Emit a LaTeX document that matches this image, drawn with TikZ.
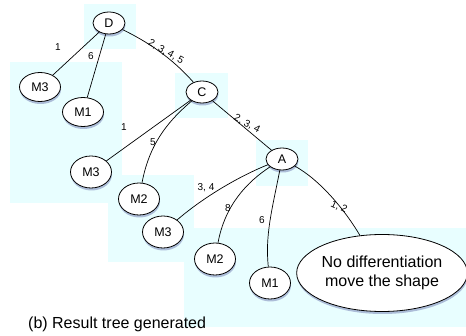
\documentclass[tikz,border=0pt]{standalone}
\usepackage{fontspec}
\setmainfont{Liberation Sans}
\usetikzlibrary{shapes.geometric,shadows}
\definecolor{bgcyan}{RGB}{232,254,255}
\definecolor{shadowblue}{RGB}{100,110,170}
\begin{document}
\begin{tikzpicture}[x=1pt,y=-1pt,
  nd/.style={ellipse,draw=black,line width=0.8pt,fill=white,inner sep=0pt,
    font=\fontsize{12.5}{14}\selectfont,
    drop shadow={shadow xshift=0.5pt,shadow yshift=-2.5pt,fill=shadowblue,opacity=0.45}},
  leaf/.style={nd,minimum width=41pt,minimum height=32pt},
  inner/.style={nd,minimum width=32pt,minimum height=22pt},
  bg/.style={fill=bgcyan,draw=none},
  edge/.style={draw=black,line width=0.7pt},
  lab/.style={font=\fontsize{10}{11}\selectfont,inner sep=0pt}]
\useasboundingbox (0,0) rectangle (466,336);
% background boxes
\fill[bg] (84,4) rectangle (136,49);
\fill[bg] (10,62) rectangle (122,203);
\fill[bg] (175,73) rectangle (228,118);
\fill[bg] (108,175) rectangle (194,262);
\fill[bg] (256,140) rectangle (308,186);
\fill[bg] (184,228) rectangle (466,327);
% nodes
\node[inner] (D) at (109,23) {D};
\node[leaf,minimum height=29pt] (M3a) at (40,87) {M3};
\node[leaf,minimum height=29pt] (M1a) at (83,112) {M1};
\node[inner] (C) at (202,92) {C};
\node[leaf] (M3b) at (91,172) {M3};
\node[leaf] (M2b) at (139,199) {M2};
\node[inner] (A) at (282,159) {A};
\node[leaf] (M3c) at (163,232) {M3};
\node[leaf] (M2c) at (215,259) {M2};
\node[leaf] (M1c) at (270,283) {M1};
\node[nd,minimum width=167pt,minimum height=77pt,align=center,
  font=\fontsize{16}{18.5}\selectfont] (N) at (382,273) {No differentiation\\move the shape};
% edges
\draw[edge] (D) -- (M3a);
\draw[edge] (D) -- (M1a);
\draw[edge] (D) .. controls (148,42) and (172,58) .. (C);
\draw[edge] (C) -- (M3b);
\draw[edge] (C) .. controls (172,118) and (150,140) .. (M2b);
\draw[edge] (C) -- (A);
\draw[edge] (A) .. controls (240,176) and (205,196) .. (M3c);
\draw[edge] (A) .. controls (247,182) and (225,205) .. (M2c);
\draw[edge] (A) .. controls (272,210) and (265,235) .. (M1c);
\draw[edge] (A) .. controls (320,180) and (345,210) .. (N);
% edge labels
\node[lab] (l1) at (58,47) {1};
\node[lab] (l2) at (91,56) {6};
\node[lab,rotate=-30] (l3) at (166,52) {2, 3, 4, 5};
\node[lab] (l4) at (124,127) {1};
\node[lab] (l5) at (153,142) {5};
\node[lab,rotate=-28] (l6) at (247,124) {2, 3, 4};
\node[lab] (l7) at (206,188) {3, 4};
\node[lab] (l8) at (228,208) {8};
\node[lab] (l9) at (262,220) {6};
\node[lab,rotate=-25] (l10) at (339,207) {1, 2};
% caption
\node[anchor=base west,inner sep=0pt,font=\fontsize{16}{18}\selectfont] (cap) at (28,329) {(b) Result tree generated};
\end{tikzpicture}
\end{document}
